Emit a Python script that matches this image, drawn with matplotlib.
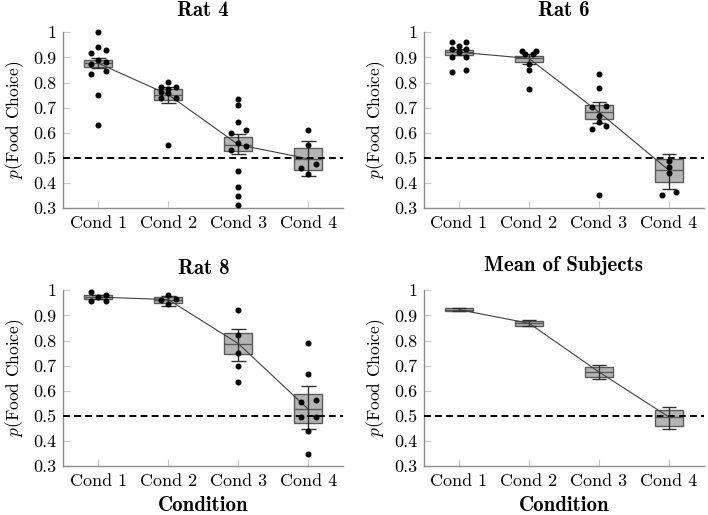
import numpy as np
import matplotlib
matplotlib.use("Agg")
import matplotlib.pyplot as plt

plt.rcParams["font.family"] = "cmr10"
plt.rcParams["mathtext.fontset"] = "cm"
plt.rcParams["axes.formatter.use_mathtext"] = True

CONDS = ["Cond 1", "Cond 2", "Cond 3", "Cond 4"]
TITLES = ["Rat 4", "Rat 6", "Rat 8", "Mean of Subjects"]
YTICKS = [0.3, 0.4, 0.5, 0.6, 0.7, 0.8, 0.9, 1.0]
YTICK_LABELS = ["0.3", "0.4", "0.5", "0.6", "0.7", "0.8", "0.9", "1"]
CHANCE = 0.5

# per-session points (jitter given in steps left/right of the condition)
rat4_pts = [
    [1.0, 0.94, 0.928, 0.918, 0.891, 0.874, 0.883, 0.845, 0.834, 0.752, 0.632],
    [0.802, 0.781, 0.781, 0.776, 0.764, 0.757, 0.739, 0.739, 0.553],
    [0.735, 0.711, 0.642, 0.599, 0.610, 0.558, 0.549, 0.533, 0.448, 0.384, 0.350, 0.312],
    [0.611, 0.550, 0.462, 0.475, 0.437],
]
rat4_jit = [
    [0, 0, 1, -1, 0, -1, 1, 1, -1, 0, 0],
    [0, -1, 1, 0, -1, 0, -1, 1, 0],
    [0, 0, 0, -1, 1, 0, 1, -1, 0, 0, 0, 0],
    [0, 0, -1, 1, 0],
]
rat6_pts = [
    [0.961, 0.961, 0.947, 0.932, 0.932, 0.920, 0.902, 0.902, 0.844, 0.850],
    [0.925, 0.927, 0.914, 0.914, 0.875, 0.849, 0.773],
    [0.833, 0.778, 0.704, 0.708, 0.667, 0.645, 0.616, 0.627, 0.353],
    [0.488, 0.464, 0.441, 0.353, 0.366],
]
rat6_jit = [
    [-1, 1, 0, -1, 1, 0, -1, 1, -1, 1],
    [-1, 1, -0.5, 0.5, 0, 0, 0],
    [0, 0, -1, 1, 0, 0, -1, 1, 0],
    [0, 0, 0, -1, 1],
]
rat8_pts = [
    [0.993, 0.983, 0.975, 0.959, 0.959],
    [0.980, 0.960, 0.965, 0.946],
    [0.920, 0.821, 0.750, 0.699, 0.635],
    [0.789, 0.666, 0.555, 0.562, 0.498, 0.498, 0.441, 0.350],
]
rat8_jit = [
    [-1, 1, 0, -1, 1],
    [0, -1, 1, 0],
    [0, 0, 0, 0, 0],
    [0, 0, -1, 1, -1, 1, 0, 0],
]

# box summaries: lower/upper box edge, median, whisker ends
rat4_q1 = [0.863, 0.730, 0.528, 0.451]
rat4_q3 = [0.890, 0.774, 0.582, 0.541]
rat4_med = [0.877, 0.752, 0.553, 0.497]
rat4_lo = [0.859, 0.718, 0.516, 0.430]
rat4_hi = [0.896, 0.783, 0.596, 0.568]

rat6_q1 = [0.910, 0.880, 0.655, 0.403]
rat6_q3 = [0.930, 0.906, 0.711, 0.498]
rat6_med = [0.921, 0.896, 0.682, 0.451]
rat6_lo = [0.908, 0.873, 0.640, 0.378]
rat6_hi = [0.934, 0.912, 0.724, 0.517]

rat8_q1 = [0.967, 0.950, 0.746, 0.471]
rat8_q3 = [0.980, 0.973, 0.829, 0.587]
rat8_med = [0.973, 0.963, 0.788, 0.527]
rat8_lo = [0.965, 0.939, 0.720, 0.449]
rat8_hi = [0.982, 0.978, 0.848, 0.618]

mean_q1 = [0.916, 0.858, 0.657, 0.462]
mean_q3 = [0.930, 0.878, 0.694, 0.522]
mean_med = [0.923, 0.869, 0.675, 0.496]
mean_lo = [0.917, 0.857, 0.647, 0.448]
mean_hi = [0.929, 0.880, 0.704, 0.537]

BOX_FILL = "#b4b4b4"; BOX_EDGE = "#5a5a5a"; AXIS_GREY = "#8c8c8c"
BOX_W = 0.4; CAP_W = 0.21; JIT = 0.105

PANELS = [
    (rat4_pts, rat4_jit, rat4_q1, rat4_q3, rat4_med, rat4_lo, rat4_hi),
    (rat6_pts, rat6_jit, rat6_q1, rat6_q3, rat6_med, rat6_lo, rat6_hi),
    (rat8_pts, rat8_jit, rat8_q1, rat8_q3, rat8_med, rat8_lo, rat8_hi),
    (None, None, mean_q1, mean_q3, mean_med, mean_lo, mean_hi),
]

W, H = 708, 515
fig = plt.figure(figsize=(W / 100, H / 100), dpi=100)
# axes boxes in pixels: left, top, width, height
boxes_px = [(63.3, 32.3, 280, 176), (424, 32.3, 280, 176),
            (63.3, 290.3, 280, 176), (424, 290.3, 280, 176)]

for i, (pts, jit, q1, q3, med, lo, hi) in enumerate(PANELS):
    l, t, w, h = boxes_px[i]
    ax = fig.add_axes([l / W, 1 - (t + h) / H, w / W, h / H])
    x = np.arange(1, len(CONDS) + 1)
    q1 = np.array(q1); q3 = np.array(q3)

    ax.bar(x, q3 - q1, BOX_W, bottom=q1, color=BOX_FILL, edgecolor=BOX_EDGE,
           linewidth=1.0, zorder=2)
    ax.hlines(med, x - BOX_W / 2, x + BOX_W / 2, color=BOX_EDGE, lw=1.0, zorder=3)
    ax.vlines(x, lo, hi, color="#303030", lw=1.0, zorder=3)
    ax.hlines(lo, x - CAP_W / 2, x + CAP_W / 2, color="#303030", lw=1.0, zorder=3)
    ax.hlines(hi, x - CAP_W / 2, x + CAP_W / 2, color="#303030", lw=1.0, zorder=3)
    ax.plot(x, med, color="#404040", lw=0.8, zorder=4)
    ax.axhline(CHANCE, color="black", lw=1.4, ls=(0, (3.5, 2.2)), zorder=5)

    if pts is not None:
        for k, (vals, offs) in enumerate(zip(pts, jit)):
            xs = x[k] + JIT * np.array(offs)
            ax.plot(xs, vals, "o", color="black", ms=3.3, zorder=6, clip_on=False)

    ax.set_xlim(0.5, 4.5)
    ax.set_ylim(0.3, 1.0)
    ax.set_xticks(x, CONDS)
    ax.set_yticks(YTICKS, YTICK_LABELS)
    ax.tick_params(direction="in", length=5, color="#c8c8c8", labelsize=13, pad=5)
    for s in ("top", "right"):
        ax.spines[s].set_visible(False)
    for s in ("left", "bottom"):
        ax.spines[s].set_color(AXIS_GREY)
        ax.spines[s].set_linewidth(1.0)
    ax.set_ylabel(r"$p$(Food Choice)", fontsize=12.5, labelpad=5)
    ax.set_title(TITLES[i], family="cmb10", fontsize=15, pad=14 if i == 3 else 12)
    if i >= 2:
        ax.set_xlabel("Condition", family="cmb10", fontsize=15, labelpad=5)

fig.savefig("out.png", dpi=100)
